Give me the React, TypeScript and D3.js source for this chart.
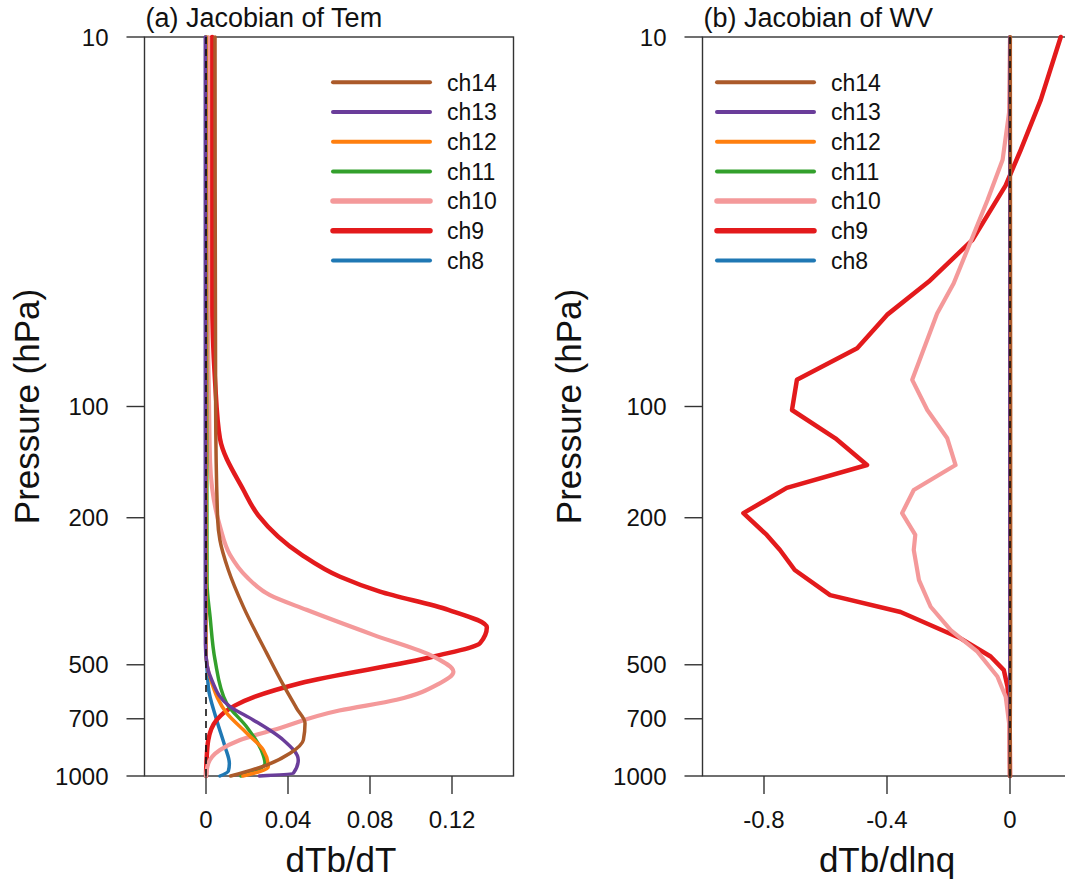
import * as d3 from 'd3';
import React from 'react';

const W = 1065;
const H = 883;

// pressure axis (hPa), shared by both panels
const pressureTicks = [10, 100, 200, 500, 700, 1000];

// x ticks
const temTicks = [0, 0.04, 0.08, 0.12];
const temTickLabels = ['0', '0.04', '0.08', '0.12'];
const wvTicks = [-0.8, -0.4, 0];
const wvTickLabels = ['-0.8', '-0.4', '0'];

// channels, legend order is top to bottom
const channels = ['ch8', 'ch9', 'ch10', 'ch11', 'ch12', 'ch13', 'ch14'];
const legendOrder = ['ch14', 'ch13', 'ch12', 'ch11', 'ch10', 'ch9', 'ch8'];
const colors: Record<string, string> = {
  ch8: '#1f78b4',
  ch9: '#e31a1c',
  ch10: '#f4999a',
  ch11: '#33a02c',
  ch12: '#ff7f0e',
  ch13: '#6a3d9a',
  ch14: '#ab5a2a',
};
const widths: Record<string, number> = {
  ch8: 3.5, ch9: 4.5, ch10: 4.2, ch11: 3.5, ch12: 3.5, ch13: 3.5, ch14: 3.5,
};

// (a) temperature jacobian, [pressure, dTb/dT]
const temCh8: [number, number][] = [[10, -0.0002], [400, -0.0002], [573, 0.0011], [705, 0.0052], [834, 0.0093], [925, 0.0114], [970, 0.0109], [1000, 0.0068]];
const temCh9: [number, number][] = [[10, 0.003], [50, 0.003], [85, 0.0044], [122, 0.0068], [168, 0.0182], [197, 0.0255], [252, 0.0467], [289, 0.0654], [317, 0.0849], [355, 0.1182], [396, 0.137], [437, 0.1337], [475, 0.111], [561, 0.0459], [610, 0.0239], [645, 0.014], [705, 0.0052], [800, 0.0011], [900, 0.0003], [1000, 0]];
const temCh10: [number, number][] = [[10, 0.001], [60, 0.001], [100, 0.0015], [142, 0.002], [211, 0.0068], [252, 0.0117], [289, 0.0198], [324, 0.0312], [355, 0.049], [415, 0.0816], [475, 0.111], [522, 0.1207], [564, 0.1133], [622, 0.093], [665, 0.065], [751, 0.0328], [799, 0.0166], [851, 0.0068], [925, 0.0011], [1000, 0]];
const temCh11: [number, number][] = [[10, 0], [300, 0.0005], [371, 0.002], [485, 0.0044], [635, 0.01], [736, 0.0198], [851, 0.027], [925, 0.0288], [1000, 0.017]];
const temCh12: [number, number][] = [[10, 0], [465, 0], [560, 0.0028], [675, 0.01], [765, 0.0198], [851, 0.028], [944, 0.0304], [1000, 0.018]];
const temCh13: [number, number][] = [[10, -0.0003], [440, -0.0003], [500, 0.0005], [550, 0.0028], [649, 0.0117], [705, 0.023], [799, 0.0377], [905, 0.045], [983, 0.0426], [1000, 0.026]];
const temCh14: [number, number][] = [[10, 0.0044], [100, 0.0047], [203, 0.0057], [230, 0.0068], [277, 0.0109], [348, 0.0182], [465, 0.0296], [567, 0.0377], [656, 0.0442], [720, 0.0483], [799, 0.0475], [868, 0.041], [934, 0.0296], [1000, 0.012]];

// (b) water vapour jacobian, [pressure, dTb/dlnq]
const wvCh8: [number, number][] = [[10, 0], [1000, 0]];
const wvCh9: [number, number][] = [[10, 0.165], [14.8, 0.1], [20.2, 0.035], [25.2, -0.014], [35.4, -0.122], [45.9, -0.264], [56.5, -0.4], [69.6, -0.497], [84.7, -0.693], [102.2, -0.709], [121.9, -0.568], [144, -0.465], [166, -0.726], [194.4, -0.867], [222.6, -0.791], [244.5, -0.748], [277, -0.7], [324, -0.585], [360, -0.356], [424, -0.161], [475, -0.063], [517, -0.02], [573, -0.008], [705, -0.001], [1000, 0]];
const wvCh10: [number, number][] = [[10, 0], [16, -0.003], [21.5, -0.024], [27.6, -0.073], [37.7, -0.139], [46.4, -0.183], [56, -0.237], [84.7, -0.318], [102.2, -0.269], [121.9, -0.204], [144, -0.177], [168.3, -0.313], [194.4, -0.351], [222.6, -0.308], [244.5, -0.313], [294.9, -0.296], [348.3, -0.258], [402.7, -0.193], [461, -0.106], [538, -0.041], [610, -0.014], [719, -0.003], [1000, 0]];
const wvCh11: [number, number][] = [[10, 0], [1000, 0]];
const wvCh12: [number, number][] = [[10, 0], [1000, 0]];
const wvCh13: [number, number][] = [[10, -0.0008], [500, -0.0008], [1000, -0.0005]];
const wvCh14: [number, number][] = [[10, 0.001], [100, 0.002], [500, 0.002], [700, 0.001], [1000, 0]];

const FONT = "'Liberation Sans', Arial, Helvetica, sans-serif";

const top = 37;
const bottom = 776;
const plotW = 369;
const tickLen = 18;

type PanelProps = {
  title: string;
  left: number;
  domain: [number, number];
  ticks: number[];
  tickLabels: string[];
  xTitle: string;
  xTitleX: number;
  yTitleX: number;
  legendX: number;
  smooth: boolean;
  series: Record<string, [number, number][]>;
};

const Panel = ({ title, left, domain, ticks, tickLabels, xTitle, xTitleX, yTitleX, legendX, smooth, series }: PanelProps) => {
  const x = d3.scaleLinear().domain(domain).range([left, left + plotW]);
  const y = d3.scaleLog().domain([10, 1000]).range([top, bottom]);
  const line = d3.line<[number, number]>()
    .x((d) => x(d[1]))
    .y((d) => y(d[0]))
    .curve(smooth ? d3.curveMonotoneY : d3.curveLinear);
  const midY = (top + bottom) / 2;

  return (
    <g fontFamily={FONT} fill="#111">
      {/* frame */}
      <rect x={left} y={top} width={plotW} height={bottom - top} fill="none" stroke="#333" strokeWidth={1.4} />

      {/* curves */}
      {channels.map((ch) => (
        <path key={ch} d={line(series[ch]) || ''} fill="none" stroke={colors[ch]}
          strokeWidth={widths[ch]} strokeLinejoin="round" strokeLinecap="round" />
      ))}

      {/* zero line */}
      <line x1={x(0)} x2={x(0)} y1={top} y2={bottom} stroke="#111" strokeWidth={1.6} strokeDasharray="7,5" />

      {/* y axis */}
      {pressureTicks.map((p) => (
        <g key={p}>
          <line x1={left - tickLen} x2={left} y1={y(p)} y2={y(p)} stroke="#333" strokeWidth={1.4} />
          <text x={left - tickLen - 18} y={y(p)} dy="0.36em" textAnchor="end" fontSize={24}>{p}</text>
        </g>
      ))}
      <text transform={`translate(${yTitleX}, ${midY}) rotate(-90)`} textAnchor="middle" fontSize={35}>Pressure (hPa)</text>

      {/* x axis */}
      {ticks.map((t, i) => (
        <g key={t}>
          <line x1={x(t)} x2={x(t)} y1={bottom} y2={bottom + tickLen} stroke="#333" strokeWidth={1.4} />
          <text x={x(t)} y={828} textAnchor="middle" fontSize={24}>{tickLabels[i]}</text>
        </g>
      ))}
      <text x={xTitleX} y={872} textAnchor="middle" fontSize={35}>{xTitle}</text>

      {/* title */}
      <text x={left + 1} y={27} fontSize={27}>{title}</text>

      {/* legend */}
      {legendOrder.map((ch, i) => {
        const ly = 82.3 + i * 29.7;
        return (
          <g key={ch}>
            <line x1={legendX} x2={legendX + 97} y1={ly} y2={ly} stroke={colors[ch]}
              strokeWidth={ch === 'ch9' || ch === 'ch10' ? 5.5 : 4} strokeLinecap="round" />
            <text x={legendX + 114} y={ly} dy="0.36em" fontSize={23}>{ch}</text>
          </g>
        );
      })}
    </g>
  );
};

const App = () => {
  const tem = { ch8: temCh8, ch9: temCh9, ch10: temCh10, ch11: temCh11, ch12: temCh12, ch13: temCh13, ch14: temCh14 };
  const wv = { ch8: wvCh8, ch9: wvCh9, ch10: wvCh10, ch11: wvCh11, ch12: wvCh12, ch13: wvCh13, ch14: wvCh14 };
  return (
    <svg width={W} height={H} style={{ position: 'absolute', left: 0, top: 0, background: '#fff' }}>
      <rect width={W} height={H} fill="#fff" />
      <Panel title="(a) Jacobian of Tem" left={144.5} domain={[-0.03, 0.15]} ticks={temTicks}
        tickLabels={temTickLabels} xTitle="dTb/dT" xTitleX={341} yTitleX={39} legendX={333}
        smooth={true} series={tem} />
      <Panel title="(b) Jacobian of WV" left={702.5} domain={[-1, 0.2]} ticks={wvTicks}
        tickLabels={wvTickLabels} xTitle="dTb/dlnq" xTitleX={887} yTitleX={581} legendX={717}
        smooth={false} series={wv} />
    </svg>
  );
};

export default App;
